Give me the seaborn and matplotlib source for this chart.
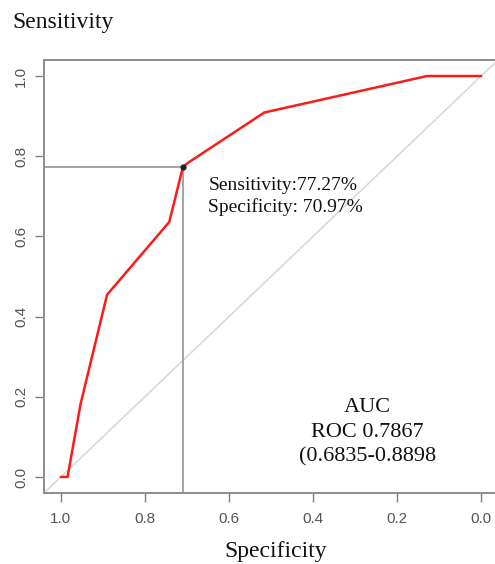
import matplotlib
matplotlib.use("Agg")
import pandas as pd
import matplotlib.pyplot as plt
import seaborn as sns

# ROC points (specificity, sensitivity)
specificity = [1.0, 0.984, 0.953, 0.890, 0.742, 0.7097, 0.697, 0.516, 0.129, 0.0]
sensitivity = [0.0, 0.0, 0.182, 0.4545, 0.636, 0.7727, 0.784, 0.909, 1.0, 1.0]
best_spec, best_sens = 0.7097, 0.7727
ticks = [1.0, 0.8, 0.6, 0.4, 0.2, 0.0]
tick_labels = ["1.0", "0.8", "0.6", "0.4", "0.2", "0.0"]

df = pd.DataFrame({"Specificity": specificity, "Sensitivity": sensitivity})

sns.set_style("white")
plt.rcParams['font.family'] = ['Liberation Sans', 'DejaVu Sans']
serif = ['Liberation Serif', 'DejaVu Serif']

fig = plt.figure(figsize=(4.95, 5.64), dpi=100)
ax = fig.add_axes([44 / 495, 71 / 564, 454 / 495, 433 / 564])

# chance diagonal
ax.plot([1.04, -0.04], [-0.04, 1.04], color="#d9d9d9", lw=1.2, zorder=1)

# cutoff guides
ax.plot([1.04, best_spec], [best_sens, best_sens], color="#8c8c8c", lw=1.1, zorder=2)
ax.plot([best_spec, best_spec], [-0.04, best_sens], color="#8c8c8c", lw=1.1, zorder=2)

sns.lineplot(data=df, x="Specificity", y="Sensitivity", sort=False,
             color="#ff1a1a", lw=1.8, ax=ax, zorder=3)
ax.scatter([best_spec], [best_sens], s=12, color="#222222", zorder=4)

ax.set_xlim(1.04, -0.04)
ax.set_ylim(-0.04, 1.04)
ax.set_xticks(ticks)
ax.set_xticklabels(tick_labels)
ax.set_yticks(ticks)
ax.set_yticklabels(tick_labels, rotation=90, va="center")
ax.tick_params(axis="both", direction="out", length=6.5, width=1, color="#7f7f7f",
               labelsize=11, labelcolor="#555555", pad=7)
ax.tick_params(axis="x", bottom=True)
ax.tick_params(axis="y", left=True, pad=5)
for side in ax.spines.values():
    side.set_color("#8c8c8c")
    side.set_linewidth(1.4)
ax.spines["right"].set_visible(False)
ax.set_xlabel("")
ax.set_ylabel("")

fig.text(12 / 495, 1 - 28 / 564, "Sensitivity", family=serif, fontsize=17,
         color="#111111", va="baseline")
fig.text(276 / 495, 1 - 557 / 564, "Specificity", family=serif, fontsize=17,
         color="#111111", va="baseline", ha="center")

ax.text(0.649, 0.716, "Sensitivity:77.27%", family=serif,
        fontsize=14, color="#111111", ha="left", va="baseline")
ax.text(0.649, 0.662, "Specificity: 70.97%", family=serif,
        fontsize=14, color="#111111", ha="left", va="baseline")

auc_lines = ["AUC", "ROC 0.7867", "(0.6835-0.8898"]
for i, line in enumerate(auc_lines):
    ax.text(0.270, 0.162 - i * 0.062, line, family=serif,
            fontsize=16, color="#111111", ha="center", va="baseline")

fig.savefig("out.png", dpi=100)
